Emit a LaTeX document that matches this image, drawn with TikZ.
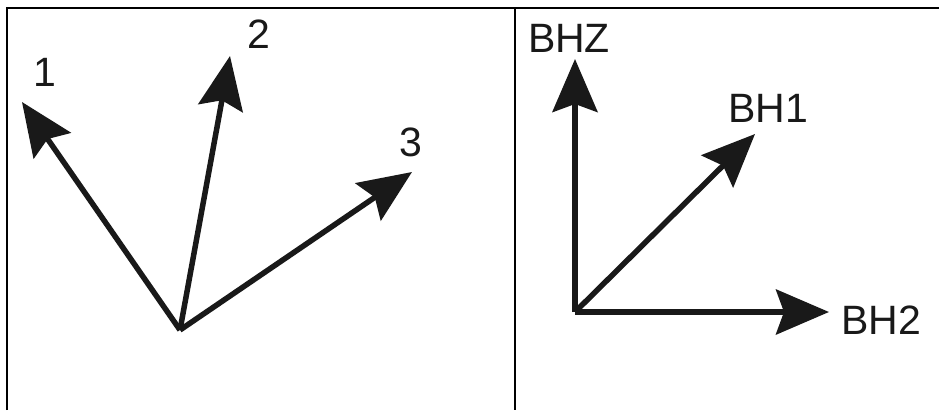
\documentclass[tikz,border=0pt]{standalone}
\usepackage{fontspec}
\setmainfont{Liberation Sans}
\usetikzlibrary{arrows.meta}
\begin{document}
\begin{tikzpicture}[x=1bp,y=-1bp,
  frame/.style={line width=2.4bp, black},
  vec/.style={line width=5.5bp, color=black!90, -{Stealth[length=53bp,width=45bp,inset=8bp]}},
  lbl/.style={font=\fontsize{41bp}{45bp}\selectfont, text=black!90, inner sep=0pt}]
\useasboundingbox (0,0) rectangle (939,410);
% frame
\draw[frame] (7,410) -- (7,8) -- (939,8);
\draw[frame, line width=2bp] (514.5,8) -- (514.5,410);
% left panel
\coordinate (O) at (180,330);
\coordinate (t1) at (22,102);
\coordinate (t2) at (230,56);
\coordinate (t3) at (412,172);
\draw[vec] (O) -- (t1);
\draw[vec] (O) -- (t2);
\draw[vec] (O) -- (t3);
\node[lbl] (l1) at (45,72) {1};
\node[lbl] (l2) at (259,34) {2};
\node[lbl] (l3) at (411,142) {3};
% right panel
\coordinate (P) at (575,312);
\coordinate (tz) at (575,59);
\coordinate (th1) at (755,134);
\coordinate (th2) at (829,312);
\draw[vec] (P) -- (tz);
\draw[vec] (P) -- (th1);
\draw[vec] (P) -- (th2);
\node[lbl] (bhz) at (569,38) {BHZ};
\node[lbl] (bh1) at (768,108) {BH1};
\node[lbl] (bh2) at (881,320) {BH2};
\end{tikzpicture}
\end{document}
